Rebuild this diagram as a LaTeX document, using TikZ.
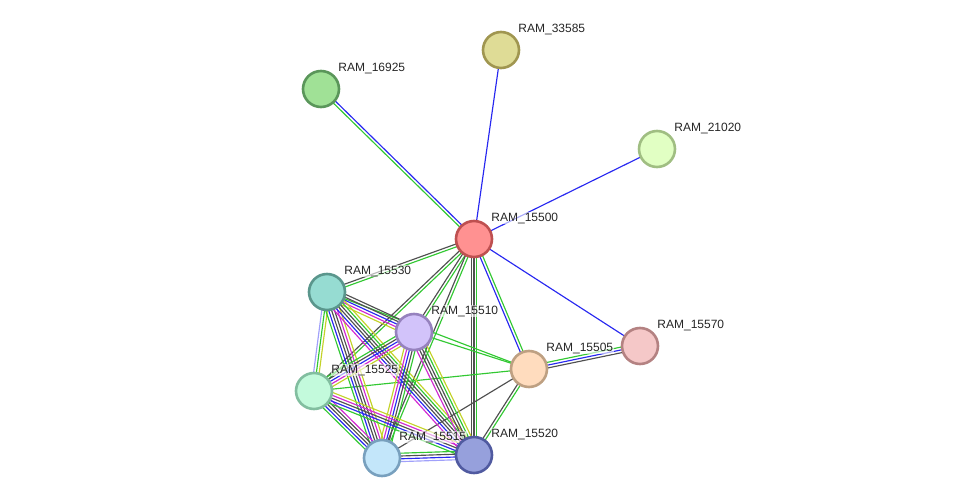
\documentclass[tikz,border=0pt]{standalone}
\usepackage{fontspec}
\setmainfont{Liberation Sans}
\usetikzlibrary{calc, backgrounds}

\definecolor{lgreen}{RGB}{50,200,50}
\definecolor{lblue}{RGB}{40,40,240}
\definecolor{lgray}{RGB}{80,80,80}
\definecolor{lyellow}{RGB}{195,210,40}
\definecolor{lmag}{RGB}{210,40,210}
\definecolor{llav}{RGB}{160,160,250}

% node fills and rims
\definecolor{f15500}{RGB}{255,145,145}\definecolor{d15500}{RGB}{190,80,80}
\definecolor{f33585}{RGB}{223,220,150}\definecolor{d33585}{RGB}{160,150,80}
\definecolor{f16925}{RGB}{160,225,150}\definecolor{d16925}{RGB}{90,150,90}
\definecolor{f21020}{RGB}{225,255,195}\definecolor{d21020}{RGB}{160,190,130}
\definecolor{f15530}{RGB}{150,220,210}\definecolor{d15530}{RGB}{90,150,140}
\definecolor{f15510}{RGB}{210,195,250}\definecolor{d15510}{RGB}{150,130,190}
\definecolor{f15505}{RGB}{255,220,190}\definecolor{d15505}{RGB}{190,160,130}
\definecolor{f15570}{RGB}{245,200,200}\definecolor{d15570}{RGB}{180,130,130}
\definecolor{f15525}{RGB}{195,250,220}\definecolor{d15525}{RGB}{130,190,160}
\definecolor{f15515}{RGB}{195,230,250}\definecolor{d15515}{RGB}{120,160,190}
\definecolor{f15520}{RGB}{150,160,220}\definecolor{d15520}{RGB}{80,90,160}

% one coloured line per kind of evidence, side by side
\newcommand\link[3]{%
  \foreach \c [count=\i] in {#3} {\xdef\nlinks{\i}}%
  \foreach \c [count=\i] in {#3} {%
    \pgfmathsetmacro\off{(\i-(\nlinks+1)/2)*2.8}%
    \draw[\c, line width=1.15pt] ($(#1)!\off pt!90:(#2)$) -- ($(#2)!\off pt!-90:(#1)$);
  }}

\tikzset{
  prot/.style={circle, minimum size=36pt, inner sep=0pt, line width=2.6pt,
               fill=f#1, draw=d#1, label={[lbl]45:RAM\_#1}},
  lbl/.style={font=\fontsize{12}{14}\selectfont, text=black!85, inner sep=0.6pt,
              fill=white, fill opacity=0.6, text opacity=1, xshift=3pt, yshift=1pt}
}

\begin{document}
\begin{tikzpicture}[x=1pt, y=-1pt]
  \useasboundingbox (0,0) rectangle (975,503);

  \node[prot=15500] (n15500) at (474,239) {};
  \node[prot=33585] (n33585) at (501,50) {};
  \node[prot=16925] (n16925) at (321,89) {};
  \node[prot=21020] (n21020) at (657,149) {};
  \node[prot=15530] (n15530) at (327,292) {};
  \node[prot=15510] (n15510) at (414,332) {};
  \node[prot=15505] (n15505) at (529,369) {};
  \node[prot=15570] (n15570) at (640,346) {};
  \node[prot=15525] (n15525) at (314,391) {};
  \node[prot=15515] (n15515) at (382,458) {};
  \node[prot=15520] (n15520) at (474,455) {};

  \begin{scope}[on background layer]
    \link{n16925}{n15500}{lgreen,lblue}
    \link{n33585}{n15500}{lblue}
    \link{n21020}{n15500}{lblue}
    \link{n15570}{n15500}{lblue}
    \link{n15500}{n15530}{lgray,lgreen}
    \link{n15500}{n15510}{lgray,lgreen}
    \link{n15500}{n15525}{lgray,lgreen}
    \link{n15500}{n15515}{lgray,lgreen}
    \link{n15500}{n15520}{lgray,lgray,lgreen}
    \link{n15500}{n15505}{lblue,lgreen}
    \link{n15505}{n15570}{lgray,lblue,lgreen}
    \link{n15505}{n15510}{lgreen}
    \link{n15505}{n15530}{lgreen}
    \link{n15505}{n15525}{lgreen}
    \link{n15505}{n15515}{lgray}
    \link{n15505}{n15520}{lgray,lgreen}
    \link{n15530}{n15510}{lyellow,lmag,lblue,lgray,lgray}
    \link{n15530}{n15525}{llav,lgreen,lyellow}
    \link{n15530}{n15515}{lgreen,lblue,lgray,lgray,lmag,lyellow}
    \link{n15530}{n15520}{lmag,lblue,lgray,lgray,lgreen,lyellow}
    \link{n15510}{n15525}{lgreen,lgray,lblue,lmag,lyellow}
    \link{n15510}{n15515}{lyellow,lmag,lblue,lgray,lgreen}
    \link{n15510}{n15520}{lmag,lgray,lgray,lgreen,lyellow}
    \link{n15525}{n15515}{lgreen,lblue,lgray,lgray,lmag}
    \link{n15525}{n15520}{lgreen,lblue,lgray,lmag,lyellow}
    \link{n15515}{n15520}{llav,lblue,lgray,lgreen}
  \end{scope}
\end{tikzpicture}
\end{document}
